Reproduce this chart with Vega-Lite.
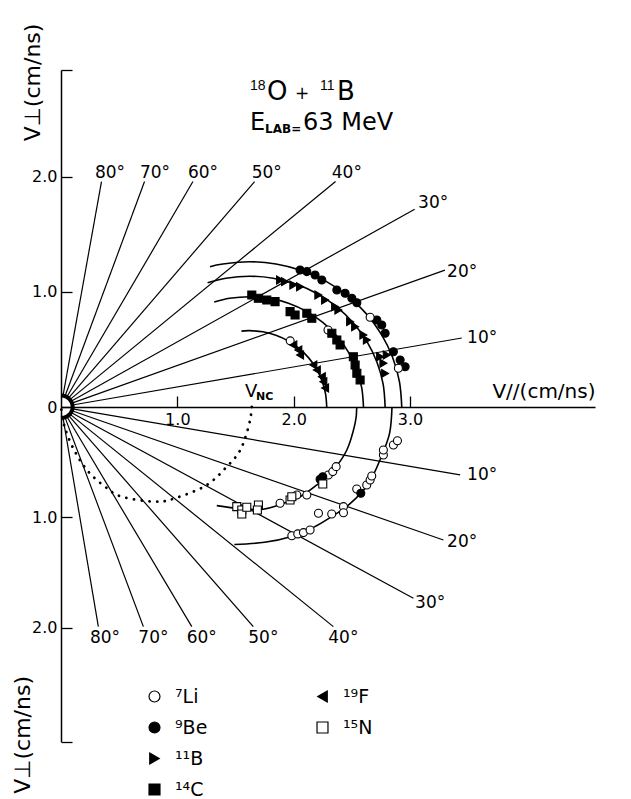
{
  "$schema": "https://vega.github.io/schema/vega-lite/v6.json",
  "width": 534,
  "height": 671.7,
  "autosize": "none",
  "padding": {"left": 61, "top": 70, "right": 36, "bottom": 57.3},
  "background": "white",
  "config": {
    "view": {"stroke": null},
    "text": {"font": "DejaVu Sans", "color": "black"},
    "legend": {
      "orient": "none",
      "title": null,
      "padding": 0,
      "direction": "vertical",
      "symbolSize": 120,
      "symbolStrokeColor": "black",
      "symbolStrokeWidth": 1.2,
      "symbolOpacity": 1,
      "labelFont": "DejaVu Sans",
      "labelFontSize": 19,
      "labelColor": "black",
      "labelOffset": 11,
      "rowPadding": 11
    }
  },
  "datasets": {
    "rays": [
      {"deg": 10, "x": 0.0985, "y": 0.0174, "x2": 3.445, "y2": 0.6},
      {"deg": 20, "x": 0.094, "y": 0.034, "x2": 3.3, "y2": 1.19},
      {"deg": 30, "x": 0.0866, "y": 0.05, "x2": 3.04, "y2": 1.72},
      {"deg": 40, "x": 0.0766, "y": 0.0643, "x2": 2.36, "y2": 1.96},
      {"deg": 50, "x": 0.0643, "y": 0.0766, "x2": 1.664, "y2": 1.96},
      {"deg": 60, "x": 0.05, "y": 0.0866, "x2": 1.134, "y2": 1.96},
      {"deg": 70, "x": 0.0342, "y": 0.094, "x2": 0.718, "y2": 1.96},
      {"deg": 80, "x": 0.0174, "y": 0.0985, "x2": 0.348, "y2": 1.96},
      {"deg": -10, "x": 0.0985, "y": -0.0174, "x2": 3.431, "y2": -0.615},
      {"deg": -20, "x": 0.094, "y": -0.034, "x2": 3.287, "y2": -1.204},
      {"deg": -30, "x": 0.0866, "y": -0.05, "x2": 3.029, "y2": -1.731},
      {"deg": -40, "x": 0.0766, "y": -0.0643, "x2": 2.341, "y2": -1.988},
      {"deg": -50, "x": 0.0643, "y": -0.0766, "x2": 1.653, "y2": -1.988},
      {"deg": -60, "x": 0.05, "y": -0.0866, "x2": 1.124, "y2": -1.988},
      {"deg": -70, "x": 0.0342, "y": -0.094, "x2": 0.708, "y2": -1.988},
      {"deg": -80, "x": 0.0174, "y": -0.0985, "x2": 0.321, "y2": -1.988}
    ],
    "hub": [
      {"i": 0, "x": 0, "y": -0.1}, {"i": 1, "x": 0.0259, "y": -0.0966},
      {"i": 2, "x": 0.05, "y": -0.0866}, {"i": 3, "x": 0.0707, "y": -0.0707},
      {"i": 4, "x": 0.0866, "y": -0.05}, {"i": 5, "x": 0.0966, "y": -0.0259},
      {"i": 6, "x": 0.1, "y": 0}, {"i": 7, "x": 0.0966, "y": 0.0259},
      {"i": 8, "x": 0.0866, "y": 0.05}, {"i": 9, "x": 0.0707, "y": 0.0707},
      {"i": 10, "x": 0.05, "y": 0.0866}, {"i": 11, "x": 0.0259, "y": 0.0966},
      {"i": 12, "x": 0, "y": 0.1}
    ],
    "arcs": [
      {"arc": "a4", "i": 0, "x": 2.929, "y": 0}, {"arc": "a4", "i": 1, "x": 2.909, "y": 0.22},
      {"arc": "a4", "i": 2, "x": 2.85, "y": 0.432}, {"arc": "a4", "i": 3, "x": 2.754, "y": 0.632},
      {"arc": "a4", "i": 4, "x": 2.623, "y": 0.812}, {"arc": "a4", "i": 5, "x": 2.462, "y": 0.968},
      {"arc": "a4", "i": 6, "x": 2.275, "y": 1.094}, {"arc": "a4", "i": 7, "x": 2.068, "y": 1.187},
      {"arc": "a4", "i": 8, "x": 1.848, "y": 1.244}, {"arc": "a4", "i": 9, "x": 1.62, "y": 1.263},
      {"arc": "a4", "i": 10, "x": 1.392, "y": 1.244}, {"arc": "a4", "i": 11, "x": 1.281, "y": 1.22},
      {"arc": "a3", "i": 0, "x": 2.786, "y": 0}, {"arc": "a3", "i": 1, "x": 2.769, "y": 0.198},
      {"arc": "a3", "i": 2, "x": 2.716, "y": 0.389}, {"arc": "a3", "i": 3, "x": 2.63, "y": 0.568},
      {"arc": "a3", "i": 4, "x": 2.513, "y": 0.731}, {"arc": "a3", "i": 5, "x": 2.37, "y": 0.871},
      {"arc": "a3", "i": 6, "x": 2.203, "y": 0.984}, {"arc": "a3", "i": 7, "x": 2.019, "y": 1.069},
      {"arc": "a3", "i": 8, "x": 1.823, "y": 1.12}, {"arc": "a3", "i": 9, "x": 1.62, "y": 1.137},
      {"arc": "a3", "i": 10, "x": 1.417, "y": 1.12}, {"arc": "a3", "i": 11, "x": 1.26, "y": 1.081},
      {"arc": "a2", "i": 0, "x": 2.6, "y": 0}, {"arc": "a2", "i": 1, "x": 2.585, "y": 0.167},
      {"arc": "a2", "i": 2, "x": 2.541, "y": 0.328}, {"arc": "a2", "i": 3, "x": 2.469, "y": 0.48},
      {"arc": "a2", "i": 4, "x": 2.371, "y": 0.617}, {"arc": "a2", "i": 5, "x": 2.25, "y": 0.735},
      {"arc": "a2", "i": 6, "x": 2.11, "y": 0.831}, {"arc": "a2", "i": 7, "x": 1.955, "y": 0.902},
      {"arc": "a2", "i": 8, "x": 1.791, "y": 0.945}, {"arc": "a2", "i": 9, "x": 1.62, "y": 0.959},
      {"arc": "a2", "i": 10, "x": 1.449, "y": 0.945}, {"arc": "a2", "i": 11, "x": 1.317, "y": 0.912},
      {"arc": "a1", "i": 0, "x": 2.284, "y": 0}, {"arc": "a1", "i": 1, "x": 2.274, "y": 0.115},
      {"arc": "a1", "i": 2, "x": 2.244, "y": 0.227}, {"arc": "a1", "i": 3, "x": 2.195, "y": 0.332},
      {"arc": "a1", "i": 4, "x": 2.129, "y": 0.427}, {"arc": "a1", "i": 5, "x": 2.047, "y": 0.509},
      {"arc": "a1", "i": 6, "x": 1.952, "y": 0.575}, {"arc": "a1", "i": 7, "x": 1.847, "y": 0.624},
      {"arc": "a1", "i": 8, "x": 1.735, "y": 0.654}, {"arc": "a1", "i": 9, "x": 1.62, "y": 0.664},
      {"arc": "a1", "i": 10, "x": 1.551, "y": 0.66},
      {"arc": "l1", "i": 0, "x": 2.542, "y": 0}, {"arc": "l1", "i": 1, "x": 2.528, "y": -0.148},
      {"arc": "l1", "i": 2, "x": 2.457, "y": -0.389}, {"arc": "l1", "i": 3, "x": 2.341, "y": -0.57},
      {"arc": "l1", "i": 4, "x": 2.199, "y": -0.706}, {"arc": "l1", "i": 5, "x": 2.055, "y": -0.812},
      {"arc": "l1", "i": 6, "x": 1.911, "y": -0.872}, {"arc": "l1", "i": 7, "x": 1.739, "y": -0.925},
      {"arc": "l1", "i": 8, "x": 1.539, "y": -0.92}, {"arc": "l1", "i": 9, "x": 1.339, "y": -0.893},
      {"arc": "l2", "i": 0, "x": 2.845, "y": 0}, {"arc": "l2", "i": 1, "x": 2.825, "y": -0.235},
      {"arc": "l2", "i": 2, "x": 2.757, "y": -0.44}, {"arc": "l2", "i": 3, "x": 2.645, "y": -0.69},
      {"arc": "l2", "i": 4, "x": 2.48, "y": -0.88}, {"arc": "l2", "i": 5, "x": 2.3, "y": -1.01},
      {"arc": "l2", "i": 6, "x": 2.17, "y": -1.09}, {"arc": "l2", "i": 7, "x": 1.99, "y": -1.17},
      {"arc": "l2", "i": 8, "x": 1.75, "y": -1.225}, {"arc": "l2", "i": 9, "x": 1.49, "y": -1.245}
    ],
    "vnc": [
      {"i": 0, "x": 1.64, "y": 0}, {"i": 1, "x": 1.625, "y": -0.12},
      {"i": 2, "x": 1.582, "y": -0.283}, {"i": 3, "x": 1.53, "y": -0.41},
      {"i": 4, "x": 1.439, "y": -0.525}, {"i": 5, "x": 1.253, "y": -0.706},
      {"i": 6, "x": 0.98, "y": -0.826}, {"i": 7, "x": 0.808, "y": -0.857},
      {"i": 8, "x": 0.522, "y": -0.812}, {"i": 9, "x": 0.378, "y": -0.721},
      {"i": 10, "x": 0.235, "y": -0.585}, {"i": 11, "x": 0.12, "y": -0.405},
      {"i": 12, "x": 0.034, "y": -0.19}, {"i": 13, "x": 0, "y": 0}
    ],
    "light": [
      {"ion": "⁹Be", "x": 2.055, "y": 1.191}, {"ion": "⁹Be", "x": 2.113, "y": 1.177},
      {"ion": "⁹Be", "x": 2.184, "y": 1.148}, {"ion": "⁹Be", "x": 2.242, "y": 1.104},
      {"ion": "⁹Be", "x": 2.371, "y": 1.017}, {"ion": "⁹Be", "x": 2.442, "y": 0.989},
      {"ion": "⁹Be", "x": 2.5, "y": 0.945}, {"ion": "⁹Be", "x": 2.543, "y": 0.907},
      {"ion": "⁹Be", "x": 2.715, "y": 0.757}, {"ion": "⁹Be", "x": 2.757, "y": 0.713},
      {"ion": "⁹Be", "x": 2.786, "y": 0.641}, {"ion": "⁹Be", "x": 2.857, "y": 0.481},
      {"ion": "⁹Be", "x": 2.915, "y": 0.409}, {"ion": "⁹Be", "x": 2.958, "y": 0.35},
      {"ion": "⁷Li", "x": 2.657, "y": 0.78}, {"ion": "⁷Li", "x": 2.9, "y": 0.337},
      {"ion": "⁷Li", "x": 2.295, "y": 0.67}, {"ion": "⁷Li", "x": 1.97, "y": 0.575},
      {"ion": "¹¹B", "x": 1.883, "y": 1.104}, {"ion": "¹¹B", "x": 1.926, "y": 1.09},
      {"ion": "¹¹B", "x": 1.997, "y": 1.061}, {"ion": "¹¹B", "x": 2.055, "y": 1.046},
      {"ion": "¹¹B", "x": 2.212, "y": 0.974}, {"ion": "¹¹B", "x": 2.27, "y": 0.93},
      {"ion": "¹¹B", "x": 2.356, "y": 0.872}, {"ion": "¹¹B", "x": 2.384, "y": 0.843},
      {"ion": "¹¹B", "x": 2.485, "y": 0.742}, {"ion": "¹¹B", "x": 2.528, "y": 0.698},
      {"ion": "¹¹B", "x": 2.599, "y": 0.626}, {"ion": "¹¹B", "x": 2.629, "y": 0.583},
      {"ion": "¹¹B", "x": 2.743, "y": 0.437}, {"ion": "¹¹B", "x": 2.771, "y": 0.38},
      {"ion": "¹¹B", "x": 2.8, "y": 0.452}, {"ion": "¹¹B", "x": 2.786, "y": 0.292},
      {"ion": "¹⁴C", "x": 1.64, "y": 0.974}, {"ion": "¹⁴C", "x": 1.696, "y": 0.945},
      {"ion": "¹⁴C", "x": 1.769, "y": 0.93}, {"ion": "¹⁴C", "x": 1.84, "y": 0.916},
      {"ion": "¹⁴C", "x": 1.969, "y": 0.829}, {"ion": "¹⁴C", "x": 2.012, "y": 0.8},
      {"ion": "¹⁴C", "x": 2.113, "y": 0.815}, {"ion": "¹⁴C", "x": 2.156, "y": 0.771},
      {"ion": "¹⁴C", "x": 2.328, "y": 0.641}, {"ion": "¹⁴C", "x": 2.371, "y": 0.583},
      {"ion": "¹⁴C", "x": 2.399, "y": 0.539}, {"ion": "¹⁴C", "x": 2.513, "y": 0.437},
      {"ion": "¹⁴C", "x": 2.528, "y": 0.365}, {"ion": "¹⁴C", "x": 2.543, "y": 0.293},
      {"ion": "¹⁴C", "x": 2.571, "y": 0.235},
      {"ion": "⁷Li", "x": 1.883, "y": -0.872}, {"ion": "⁷Li", "x": 2.027, "y": -0.796},
      {"ion": "⁷Li", "x": 2.113, "y": -0.796}, {"ion": "⁷Li", "x": 2.298, "y": -0.615},
      {"ion": "⁷Li", "x": 2.336, "y": -0.585}, {"ion": "⁷Li", "x": 2.365, "y": -0.54},
      {"ion": "⁹Be", "x": 2.227, "y": -0.654}, {"ion": "⁹Be", "x": 2.25, "y": -0.631},
      {"ion": "⁷Li", "x": 1.984, "y": -1.165}, {"ion": "⁷Li", "x": 2.035, "y": -1.149},
      {"ion": "⁷Li", "x": 2.084, "y": -1.137}, {"ion": "⁷Li", "x": 2.141, "y": -1.113},
      {"ion": "⁷Li", "x": 2.213, "y": -0.962}, {"ion": "⁷Li", "x": 2.327, "y": -0.968},
      {"ion": "⁷Li", "x": 2.428, "y": -0.902}, {"ion": "⁷Li", "x": 2.428, "y": -0.957},
      {"ion": "⁷Li", "x": 2.542, "y": -0.742}, {"ion": "⁷Li", "x": 2.628, "y": -0.706},
      {"ion": "⁷Li", "x": 2.657, "y": -0.661}, {"ion": "⁷Li", "x": 2.671, "y": -0.624},
      {"ion": "⁷Li", "x": 2.771, "y": -0.434}, {"ion": "⁷Li", "x": 2.771, "y": -0.389},
      {"ion": "⁷Li", "x": 2.857, "y": -0.344}, {"ion": "⁷Li", "x": 2.892, "y": -0.305},
      {"ion": "⁹Be", "x": 2.577, "y": -0.781}
    ],
    "heavy": [
      {"ion": "¹⁹F", "x": 1.997, "y": 0.539}, {"ion": "¹⁹F", "x": 2.04, "y": 0.496},
      {"ion": "¹⁹F", "x": 2.055, "y": 0.452}, {"ion": "¹⁹F", "x": 2.169, "y": 0.365},
      {"ion": "¹⁹F", "x": 2.199, "y": 0.322}, {"ion": "¹⁹F", "x": 2.242, "y": 0.263},
      {"ion": "¹⁹F", "x": 2.255, "y": 0.22}, {"ion": "¹⁹F", "x": 2.27, "y": 0.165},
      {"ion": "¹⁵N", "x": 1.511, "y": -0.902}, {"ion": "¹⁵N", "x": 1.554, "y": -0.932},
      {"ion": "¹⁵N", "x": 1.554, "y": -0.968}, {"ion": "¹⁵N", "x": 1.597, "y": -0.908},
      {"ion": "¹⁵N", "x": 1.697, "y": -0.887}, {"ion": "¹⁵N", "x": 1.688, "y": -0.932},
      {"ion": "¹⁵N", "x": 1.969, "y": -0.842}, {"ion": "¹⁵N", "x": 1.984, "y": -0.812},
      {"ion": "¹⁵N", "x": 2.25, "y": -0.697}
    ],
    "angles": [
      {"label": "80°", "x": 0.421, "y": 2.032}, {"label": "70°", "x": 0.808, "y": 2.032},
      {"label": "60°", "x": 1.221, "y": 2.032}, {"label": "50°", "x": 1.769, "y": 2.032},
      {"label": "40°", "x": 2.457, "y": 2.032}, {"label": "30°", "x": 3.199, "y": 1.774},
      {"label": "20°", "x": 3.448, "y": 1.177}, {"label": "10°", "x": 3.62, "y": 0.597},
      {"label": "10°", "x": 3.62, "y": -0.615}, {"label": "20°", "x": 3.448, "y": -1.219},
      {"label": "30°", "x": 3.173, "y": -1.777}, {"label": "40°", "x": 2.427, "y": -2.093},
      {"label": "50°", "x": 1.739, "y": -2.093}, {"label": "60°", "x": 1.21, "y": -2.093},
      {"label": "70°", "x": 0.794, "y": -2.093}, {"label": "80°", "x": 0.378, "y": -2.093}
    ],
    "heading": [
      {"x": 1.771, "y": 2.67, "t": "O"},
      {"x": 2.373, "y": 2.67, "t": "B"}
    ],
    "massNumbers": [
      {"x": 1.625, "y": 2.757, "t": "18"},
      {"x": 2.227, "y": 2.757, "t": "11"}
    ]
  },
  "encoding": {
    "x": {
      "field": "x",
      "type": "quantitative",
      "scale": {"domain": [0, 4.59], "zero": false, "nice": false},
      "axis": {
        "values": [1, 2, 3],
        "format": ".1f",
        "offset": -334.7,
        "grid": false,
        "domainColor": "black",
        "domainWidth": 1.5,
        "tickColor": "black",
        "tickWidth": 1.3,
        "tickSize": -11,
        "labelPadding": 15,
        "labelDx": 3,
        "labelFont": "DejaVu Sans",
        "labelFontSize": 16,
        "labelColor": "black",
        "labelOverlap": false,
        "labelFlush": false,
        "title": "V//(cm/ns)",
        "titleFont": "DejaVu Sans",
        "titleFontSize": 20,
        "titleFontWeight": "normal",
        "titleColor": "black",
        "titleX": 534,
        "titleY": -16,
        "titleAlign": "right",
        "titleBaseline": "middle"
      }
    },
    "y": {
      "field": "y",
      "type": "quantitative",
      "scale": {"domain": [-3.03, 0, 2.93], "range": [671.7, 337, 0], "zero": false, "nice": false},
      "axis": {
        "values": [-3.03, -2, -1, 0, 1, 2, 2.93],
        "labelExpr": "datum.value == 0 ? '0' : (abs(datum.value) > 2.5 ? '' : format(abs(datum.value), '.1f'))",
        "grid": false,
        "domainColor": "black",
        "domainWidth": 1.5,
        "tickColor": "black",
        "tickWidth": 1.3,
        "tickSize": -11,
        "labelPadding": 15,
        "labelFont": "DejaVu Sans",
        "labelFontSize": 16,
        "labelColor": "black",
        "labelOverlap": false,
        "labelFlush": false,
        "title": "V⊥(cm/ns)",
        "titleFont": "DejaVu Sans",
        "titleFontSize": 22,
        "titleFontWeight": "normal",
        "titleColor": "black",
        "titleAngle": 270,
        "titleX": -29,
        "titleY": 12,
        "titleAlign": "center",
        "titleBaseline": "middle"
      }
    }
  },
  "layer": [
    {
      "data": {"name": "rays"},
      "mark": {"type": "rule", "color": "black", "strokeWidth": 1.2},
      "encoding": {"x2": {"field": "x2"}, "y2": {"field": "y2"}}
    },
    {
      "data": {"name": "hub"},
      "mark": {"type": "line", "color": "black", "strokeWidth": 4, "interpolate": "cardinal"},
      "encoding": {"order": {"field": "i"}}
    },
    {
      "data": {"name": "arcs"},
      "mark": {"type": "line", "color": "black", "strokeWidth": 1.6, "interpolate": "cardinal"},
      "encoding": {"detail": {"field": "arc"}, "order": {"field": "i"}}
    },
    {
      "data": {"name": "vnc"},
      "mark": {"type": "line", "color": "black", "strokeWidth": 2.8, "strokeCap": "round", "strokeDash": [0.1, 7.6], "interpolate": "cardinal"},
      "encoding": {"order": {"field": "i"}}
    },
    {
      "data": {"name": "light"},
      "mark": {"type": "point", "filled": true, "stroke": "black", "strokeWidth": 1.1, "size": 64, "opacity": 1},
      "encoding": {
        "shape": {
          "field": "ion", "type": "nominal",
          "scale": {"domain": ["⁷Li", "⁹Be", "¹¹B", "¹⁴C"], "range": ["circle", "circle", "triangle-right", "square"]},
          "legend": {
            "legendX": 84, "legendY": 617,
            "encode": {"symbols": {"update": {"stroke": {"value": "black"}, "strokeWidth": {"value": 1.2}, "size": {"value": 120}, "opacity": {"value": 1}}}}
          }
        },
        "fill": {
          "field": "ion", "type": "nominal",
          "scale": {"domain": ["⁷Li", "⁹Be", "¹¹B", "¹⁴C"], "range": ["white", "black", "black", "black"]},
          "legend": {
            "legendX": 84, "legendY": 617,
            "encode": {"symbols": {"update": {"stroke": {"value": "black"}, "strokeWidth": {"value": 1.2}, "size": {"value": 120}, "opacity": {"value": 1}}}}
          }
        }
      }
    },
    {
      "data": {"name": "heavy"},
      "mark": {"type": "point", "filled": true, "stroke": "black", "strokeWidth": 1.1, "size": 64, "opacity": 1},
      "encoding": {
        "shape": {
          "field": "ion", "type": "nominal",
          "scale": {"domain": ["¹⁹F", "¹⁵N"], "range": ["triangle-left", "square"]},
          "legend": {
            "legendX": 252, "legendY": 617,
            "encode": {"symbols": {"update": {"stroke": {"value": "black"}, "strokeWidth": {"value": 1.2}, "size": {"value": 120}, "opacity": {"value": 1}}}}
          }
        },
        "fill": {
          "field": "ion", "type": "nominal",
          "scale": {"domain": ["¹⁹F", "¹⁵N"], "range": ["black", "white"]},
          "legend": {
            "legendX": 252, "legendY": 617,
            "encode": {"symbols": {"update": {"stroke": {"value": "black"}, "strokeWidth": {"value": 1.2}, "size": {"value": 120}, "opacity": {"value": 1}}}}
          }
        }
      }
    },
    {
      "data": {"name": "angles"},
      "mark": {"type": "text", "fontSize": 17, "align": "center", "baseline": "middle"},
      "encoding": {"text": {"field": "label"}}
    },
    {
      "data": {"name": "heading"},
      "mark": {"type": "text", "fontSize": 26, "align": "left", "baseline": "alphabetic"},
      "encoding": {"text": {"field": "t"}}
    },
    {
      "data": {"values": [{"x": 2.072, "y": 2.678, "t": "+"}]},
      "mark": {"type": "text", "fontSize": 17, "align": "center", "baseline": "alphabetic"},
      "encoding": {"text": {"field": "t"}}
    },
    {
      "data": {"name": "massNumbers"},
      "mark": {"type": "text", "fontSize": 14, "align": "left", "baseline": "alphabetic", "font": "Liberation Sans"},
      "encoding": {"text": {"field": "t"}}
    },
    {
      "data": {"values": [{"x": 1.625, "y": 2.409, "t": "E"}, {"x": 2.081, "y": 2.409, "t": "63 MeV"}]},
      "mark": {"type": "text", "fontSize": 24, "align": "left", "baseline": "alphabetic"},
      "encoding": {"text": {"field": "t"}}
    },
    {
      "data": {"values": [{"x": 1.754, "y": 2.38, "t": "LAB="}]},
      "mark": {"type": "text", "fontSize": 12, "fontWeight": "bold", "align": "left", "baseline": "alphabetic"},
      "encoding": {"text": {"field": "t"}}
    },
    {
      "data": {"values": [{"x": 1.634, "y": 0.13, "t": "V"}]},
      "mark": {"type": "text", "fontSize": 18, "align": "center", "baseline": "middle"},
      "encoding": {"text": {"field": "t"}}
    },
    {
      "data": {"values": [{"x": 1.75, "y": 0.087, "t": "NC"}]},
      "mark": {"type": "text", "fontSize": 11, "fontWeight": "bold", "align": "center", "baseline": "middle"},
      "encoding": {"text": {"field": "t"}}
    },
    {
      "data": {"values": [{"x": -0.327, "y": -2.968, "t": "V⊥(cm/ns)"}]},
      "mark": {"type": "text", "fontSize": 22, "angle": 270, "align": "center", "baseline": "middle"},
      "encoding": {"text": {"field": "t"}}
    }
  ],
  "resolve": {"scale": {"shape": "independent", "fill": "independent"}}
}
